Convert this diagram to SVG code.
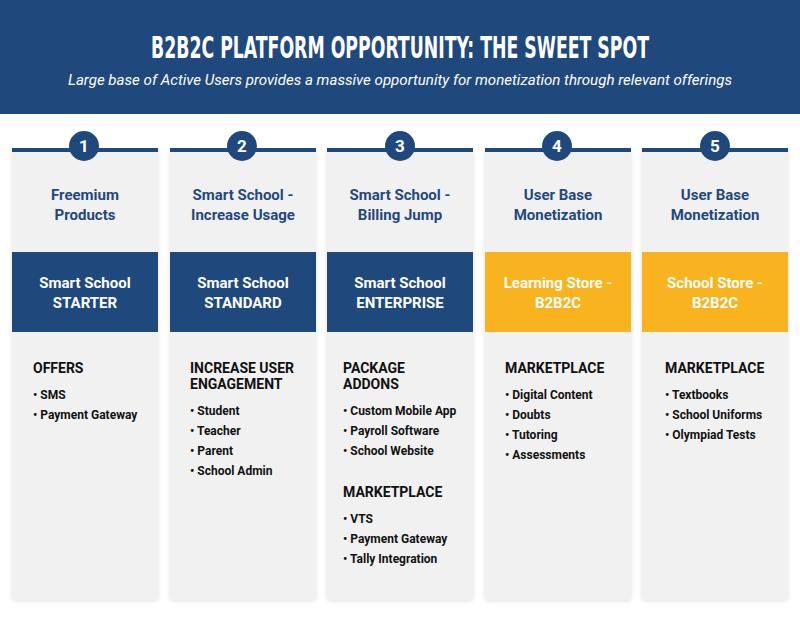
<svg xmlns="http://www.w3.org/2000/svg" width="800" height="618" viewBox="0 0 800 618">
<defs>
<style>
.hdr{fill:#1f497d}
.card{fill:#f1f1f1}
.bar{fill:#1f497d}
.num{font-family:Roboto,"Liberation Sans",sans-serif;font-weight:700;font-size:17px;fill:#fff;text-anchor:middle}
.ttl{font-family:Roboto,"Liberation Sans",sans-serif;font-weight:700;font-size:15px;fill:#1f497d;text-anchor:middle}
.box{font-family:Roboto,"Liberation Sans",sans-serif;font-weight:700;font-size:15px;fill:#fff;text-anchor:middle}
.sec{font-family:Roboto,"Liberation Sans",sans-serif;font-weight:700;font-size:14px;fill:#111}
.bul{font-family:Roboto,"Liberation Sans",sans-serif;font-weight:700;font-size:12px;fill:#111}
</style>
<filter id="sh" x="-10%" y="-10%" width="120%" height="120%">
<feDropShadow dx="0" dy="1" stdDeviation="2" flood-color="#000" flood-opacity="0.12"/>
</filter>
</defs>
<rect width="800" height="618" fill="#fff"/>
<g id="header">
<rect class="hdr" x="0" y="0" width="800" height="114"/>
<text transform="translate(400,58) scale(1,1.4)" x="0" y="0" font-family="'DejaVu Sans Condensed',Roboto,sans-serif" font-weight="700" font-size="22" fill="#fff" text-anchor="middle" textLength="498" lengthAdjust="spacingAndGlyphs">B2B2C PLATFORM OPPORTUNITY: THE SWEET SPOT</text>
<text x="400" y="85" font-family="Roboto,'Liberation Sans',sans-serif" font-style="italic" font-size="15" fill="#fff" text-anchor="middle" textLength="664" lengthAdjust="spacingAndGlyphs">Large base of Active Users provides a massive opportunity for monetization through relevant offerings</text>
</g>

<g id="col1">
<rect class="card" x="12" y="150" width="146" height="450" rx="3" filter="url(#sh)"/>
<rect class="bar" x="12" y="148" width="146" height="4"/>
<circle class="bar" cx="84" cy="146" r="15"/>
<text class="num" x="84" y="152">1</text>
<text class="ttl" x="85" y="200">Freemium</text>
<text class="ttl" x="85" y="220">Products</text>
<rect x="12" y="252" width="146" height="80" fill="#1f497d"/>
<text class="box" x="85" y="288">Smart School</text>
<text class="box" x="85" y="308">STARTER</text>
<text class="sec" x="33" y="373">OFFERS</text>
<text class="bul" x="33" y="399">• SMS</text>
<text class="bul" x="33" y="419">• Payment Gateway</text>
</g>

<g id="col2">
<rect class="card" x="170" y="150" width="146" height="450" rx="3" filter="url(#sh)"/>
<rect class="bar" x="170" y="148" width="146" height="4"/>
<circle class="bar" cx="242" cy="146" r="15"/>
<text class="num" x="242" y="152">2</text>
<text class="ttl" x="243" y="200">Smart School -</text>
<text class="ttl" x="243" y="220">Increase Usage</text>
<rect x="170" y="252" width="146" height="80" fill="#1f497d"/>
<text class="box" x="243" y="288">Smart School</text>
<text class="box" x="243" y="308">STANDARD</text>
<text class="sec" x="190" y="373">INCREASE USER</text>
<text class="sec" x="190" y="389">ENGAGEMENT</text>
<text class="bul" x="190" y="415">• Student</text>
<text class="bul" x="190" y="435">• Teacher</text>
<text class="bul" x="190" y="455">• Parent</text>
<text class="bul" x="190" y="475">• School Admin</text>
</g>

<g id="col3">
<rect class="card" x="327" y="150" width="146" height="450" rx="3" filter="url(#sh)"/>
<rect class="bar" x="327" y="148" width="146" height="4"/>
<circle class="bar" cx="400" cy="146" r="15"/>
<text class="num" x="400" y="152">3</text>
<text class="ttl" x="400" y="200">Smart School -</text>
<text class="ttl" x="400" y="220">Billing Jump</text>
<rect x="327" y="252" width="146" height="80" fill="#1f497d"/>
<text class="box" x="400" y="288">Smart School</text>
<text class="box" x="400" y="308">ENTERPRISE</text>
<text class="sec" x="343" y="373">PACKAGE</text>
<text class="sec" x="343" y="389">ADDONS</text>
<text class="bul" x="343" y="415">• Custom Mobile App</text>
<text class="bul" x="343" y="435">• Payroll Software</text>
<text class="bul" x="343" y="455">• School Website</text>
<text class="sec" x="343" y="497">MARKETPLACE</text>
<text class="bul" x="343" y="523">• VTS</text>
<text class="bul" x="343" y="543">• Payment Gateway</text>
<text class="bul" x="343" y="563">• Tally Integration</text>
</g>

<g id="col4">
<rect class="card" x="485" y="150" width="146" height="450" rx="3" filter="url(#sh)"/>
<rect class="bar" x="485" y="148" width="146" height="4"/>
<circle class="bar" cx="557" cy="146" r="15"/>
<text class="num" x="557" y="152">4</text>
<text class="ttl" x="558" y="200">User Base</text>
<text class="ttl" x="558" y="220">Monetization</text>
<rect x="485" y="252" width="146" height="80" fill="#f8b31f"/>
<text class="box" x="558" y="288">Learning Store -</text>
<text class="box" x="558" y="308">B2B2C</text>
<text class="sec" x="505" y="373">MARKETPLACE</text>
<text class="bul" x="505" y="399">• Digital Content</text>
<text class="bul" x="505" y="419">• Doubts</text>
<text class="bul" x="505" y="439">• Tutoring</text>
<text class="bul" x="505" y="459">• Assessments</text>
</g>

<g id="col5">
<rect class="card" x="642" y="150" width="146" height="450" rx="3" filter="url(#sh)"/>
<rect class="bar" x="642" y="148" width="146" height="4"/>
<circle class="bar" cx="715" cy="146" r="15"/>
<text class="num" x="715" y="152">5</text>
<text class="ttl" x="715" y="200">User Base</text>
<text class="ttl" x="715" y="220">Monetization</text>
<rect x="642" y="252" width="146" height="80" fill="#f8b31f"/>
<text class="box" x="715" y="288">School Store -</text>
<text class="box" x="715" y="308">B2B2C</text>
<text class="sec" x="665" y="373">MARKETPLACE</text>
<text class="bul" x="665" y="399">• Textbooks</text>
<text class="bul" x="665" y="419">• School Uniforms</text>
<text class="bul" x="665" y="439">• Olympiad Tests</text>
</g>
<g id="connectors"></g>
</svg>
